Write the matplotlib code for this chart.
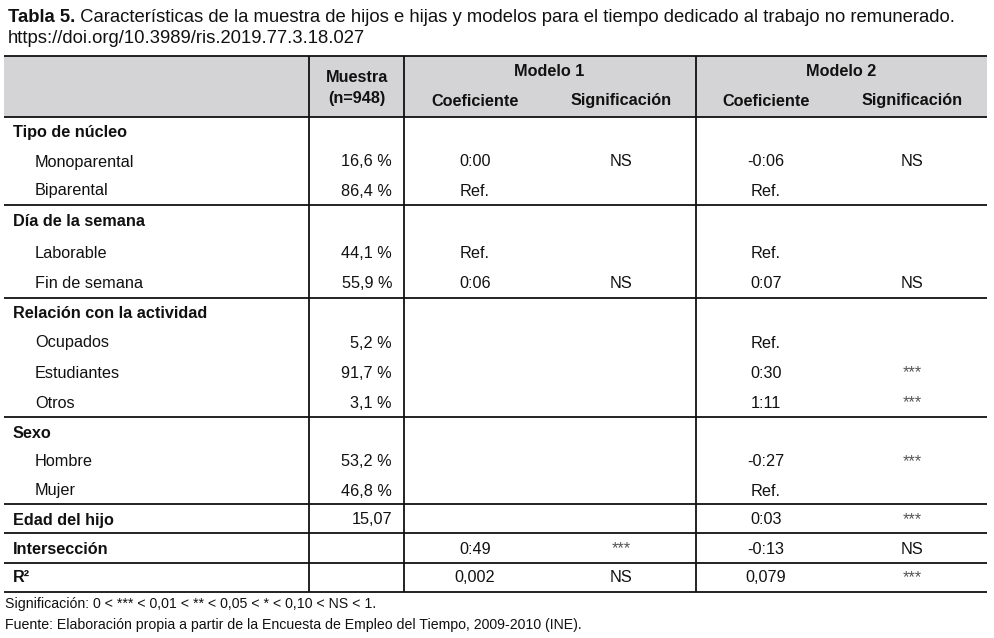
import matplotlib.pyplot as plt
from matplotlib.patches import Rectangle

plt.rcParams['font.family'] = ['Liberation Sans', 'DejaVu Sans']

# Datos de la tabla
labels = ["Tipo de núcleo", "Monoparental", "Biparental",
          "Día de la semana", "Laborable", "Fin de semana",
          "Relación con la actividad", "Ocupados", "Estudiantes", "Otros",
          "Sexo", "Hombre", "Mujer",
          "Edad del hijo", "Intersección", "R²"]
is_heading = [True, False, False, True, False, False, True, False, False, False,
              True, False, False, True, True, True]
muestra = ["", "16,6 %", "86,4 %", "", "44,1 %", "55,9 %", "", "5,2 %", "91,7 %", "3,1 %",
           "", "53,2 %", "46,8 %", "15,07", "", ""]
m1_coef = ["", "0:00", "Ref.", "", "Ref.", "0:06", "", "", "", "",
           "", "", "", "", "0:49", "0,002"]
m1_sig = ["", "NS", "", "", "", "NS", "", "", "", "",
          "", "", "", "", "***", "NS"]
m2_coef = ["", "-0:06", "Ref.", "", "Ref.", "0:07", "", "Ref.", "0:30", "1:11",
           "", "-0:27", "Ref.", "0:03", "-0:13", "0,079"]
m2_sig = ["", "NS", "", "", "", "NS", "", "", "***", "***",
          "", "***", "", "***", "NS", "***"]

title_bold = "Tabla 5."
title_rest = " Características de la muestra de hijos e hijas y modelos para el tiempo dedicado al trabajo no remunerado."
title_doi = "https://doi.org/10.3989/ris.2019.77.3.18.027"
nota = "Significación: 0 < *** < 0,01 < ** < 0,05 < * < 0,10 < NS < 1."
fuente = "Fuente: Elaboración propia a partir de la Encuesta de Empleo del Tiempo, 2009-2010 (INE)."

# Disposición (en píxeles)
W, H = 994, 638
row_y = [132, 161, 190, 220, 252, 283, 313, 342, 372, 402, 432, 461, 490, 519, 548, 577]
hlines = [56, 117, 205, 298, 417, 504, 533, 563, 592]
vlines = [309, 404, 696]
x_left, x_right = 4, 987
fs = 11.7
fs_title = 13.3
fs_note = 10.15
txt = '#111111'

fig = plt.figure(figsize=(W / 100, H / 100), dpi=100)
ax = fig.add_axes([0, 0, 1, 1])
ax.set_xlim(0, W)
ax.set_ylim(H, 0)
ax.axis('off')

# Título
t1 = ax.text(8, 22, title_bold, fontsize=fs_title, fontweight='bold', color=txt, va='baseline')
fig.canvas.draw()
bb = t1.get_window_extent()
ax.text(8 + bb.width, 22, title_rest, fontsize=fs_title, color=txt, va='baseline')
ax.text(8, 43, title_doi, fontsize=fs_title, color=txt, va='baseline')

# Cabecera gris
ax.add_patch(Rectangle((x_left, hlines[0]), x_right - x_left, hlines[1] - hlines[0],
                       facecolor='#d4d4d6', edgecolor='none', zorder=0))
for y in hlines:
    ax.plot([x_left, x_right], [y, y], color='#111111', lw=1.3, solid_capstyle='butt')
for x in vlines:
    ax.plot([x, x], [hlines[0], hlines[-1]], color='#111111', lw=1.3, solid_capstyle='butt')

hkw = dict(fontsize=fs, fontweight='bold', color=txt, va='center', ha='center')
ax.text(357, 77, "Muestra", **hkw)
ax.text(357, 98, "(n=948)", **hkw)
ax.text(549, 72, "Modelo 1", **hkw)
ax.text(841, 72, "Modelo 2", **hkw)
for cx in (475, 766):
    ax.text(cx, 101, "Coeficiente", **hkw)
for cx in (621, 912):
    ax.text(cx, 101, "Significación", **hkw)

# Filas
off = 5.5
for i, y in enumerate(row_y):
    b = y + off
    if is_heading[i]:
        ax.text(13, b, labels[i], fontsize=fs, fontweight='bold', color=txt, va='baseline')
    else:
        ax.text(35, b, labels[i], fontsize=fs, color=txt, va='baseline')
    ax.text(392, b, muestra[i], fontsize=fs, color=txt, va='baseline', ha='right')
    ax.text(475, b, m1_coef[i], fontsize=fs, color=txt, va='baseline', ha='center')
    ax.text(766, b, m2_coef[i], fontsize=fs, color=txt, va='baseline', ha='center')
    for cx, s in ((621, m1_sig[i]), (912, m2_sig[i])):
        if s == "***":
            ax.text(cx, b, s, fontsize=fs, color='#555555', va='baseline', ha='center')
        else:
            ax.text(cx, b, s, fontsize=fs, color=txt, va='baseline', ha='center')

# Notas
ax.text(5, 608, nota, fontsize=fs_note, color=txt, va='baseline')
ax.text(5, 629, fuente, fontsize=fs_note, color=txt, va='baseline')

fig.savefig('out.png', dpi=100)
